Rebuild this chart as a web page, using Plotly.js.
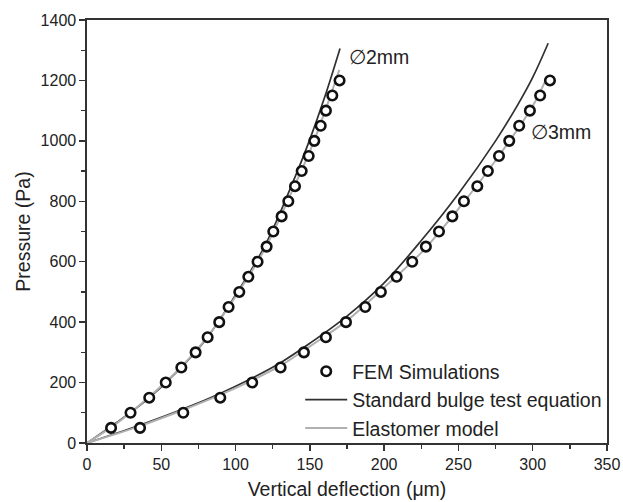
<!DOCTYPE html>
<html>
<head>
<meta charset="utf-8">
<script src="https://cdn.plot.ly/plotly-3.0.1.min.js"></script>
<style>html,body{margin:0;padding:0;background:#fff;}</style>
</head>
<body>
<div id="chart" style="width:623px;height:502px;"></div>
<script>
// FEM simulation points
const femPressure = [50,100,150,200,250,300,350,400,450,500,550,600,650,700,750,800,850,900,950,1000,1050,1100,1150,1200];
const fem2mmDefl = [16.2,29.3,41.9,53,63.5,73.1,81.2,89,95.3,102.5,108.6,114.8,120.9,125.4,131,135.5,140,144.5,149.2,153,157.3,160.8,165.1,170.0];
const fem3mmDefl = [35.7,64.8,89.7,111.2,130.3,146,160.8,174.3,187.3,197.8,208.4,218.9,228.1,236.9,245.9,253.7,262.7,269.8,277.3,284.2,290.9,298.1,305,311.6];

// Standard bulge test equation curves
const std2mmDefl = [0,20,40,60,80,100,120,140,150,160,170.3];
const std2mmP    = [0,68,142,233,343,490,655,880,1005,1145,1306];
const std3mmDefl = [0,35,65,90,110,130,150,175,200,225,250,275,290,300,310.4];
const std3mmP    = [0,58,113,165,212,265,330,420,530,670,825,1000,1120,1210,1323];

// Elastomer model curves
const ela2mmDefl = [0,20,40,60,80,100,120,140,150,160,169.8];
const ela2mmP    = [0,65,145,235,345,485,645,855,965,1095,1235];
const ela3mmDefl = [0,35,65,90,110,130,150,175,200,225,250,275,300,309.5];
const ela3mmP    = [0,55,110,160,205,255,320,405,515,630,775,935,1115,1210];

const xTicks = [0,50,100,150,200,250,300,350];
const yTicks = [0,200,400,600,800,1000,1200,1400];

const blackLine = {color:'#303030', width:1.7};
const grayLine = {color:'#b0b0b0', width:2};
const marker = {symbol:'circle', size:9.5, color:'white', line:{color:'#111111', width:2.6}};

const traces = [
  {x:std2mmDefl, y:std2mmP, mode:'lines', line:Object.assign({shape:'spline'}, blackLine), name:'Standard bulge test equation', legendrank:2, showlegend:true},
  {x:std3mmDefl, y:std3mmP, mode:'lines', line:Object.assign({shape:'spline'}, blackLine), name:'Standard bulge test equation', showlegend:false},
  {x:ela2mmDefl, y:ela2mmP, mode:'lines', line:Object.assign({shape:'spline'}, grayLine), name:'Elastomer model', legendrank:3, showlegend:true},
  {x:ela3mmDefl, y:ela3mmP, mode:'lines', line:Object.assign({shape:'spline'}, grayLine), name:'Elastomer model', showlegend:false},
  {x:fem2mmDefl, y:femPressure, mode:'markers', marker:marker, name:'FEM Simulations', legendrank:1, showlegend:true},
  {x:fem3mmDefl, y:femPressure, mode:'markers', marker:marker, name:'FEM Simulations', showlegend:false}
];

const fam = 'Liberation Sans, Arial, sans-serif';
const axisFont = {family:fam, size:16, color:'#222'};
const titleFont = {family:fam, size:19.5, color:'#222'};
const layout = {
  width:623, height:502,
  margin:{l:87, r:16, t:20, b:59},
  paper_bgcolor:'white', plot_bgcolor:'white',
  font:{family:fam, color:'#222'},
  showlegend:true,
  legend:{x:0.41, y:0.215, xanchor:'left', yanchor:'top', bgcolor:'rgba(0,0,0,0)',
          font:{family:fam, size:19.5, color:'#222'}, itemwidth:42, tracegroupgap:0},
  xaxis:{range:[0,350], tickvals:xTicks, ticks:'outside', ticklen:6, tickwidth:1.5, tickcolor:'#333',
         minor:{dtick:25, ticks:'outside', ticklen:4, tickwidth:1.3, tickcolor:'#333'},
         showline:true, linecolor:'#333', linewidth:1.6, mirror:true, showgrid:false, zeroline:false,
         tickfont:axisFont, title:{text:'Vertical deflection (\u03bcm)', font:titleFont, standoff:10}},
  yaxis:{range:[0,1400], tickvals:yTicks, ticks:'outside', ticklen:6, tickwidth:1.5, tickcolor:'#333',
         minor:{dtick:100, ticks:'outside', ticklen:4, tickwidth:1.3, tickcolor:'#333'},
         showline:true, linecolor:'#333', linewidth:1.6, mirror:true, showgrid:false, zeroline:false,
         tickfont:axisFont, title:{text:'Pressure (Pa)', font:titleFont, standoff:5}},
  annotations:[
    {x:175, y:1278, xref:'x', yref:'y', text:'\u22052mm', showarrow:false, xanchor:'left', yanchor:'middle', font:{family:fam, size:19.5, color:'#222'}},
    {x:297.5, y:1029, xref:'x', yref:'y', text:'\u22053mm', showarrow:false, xanchor:'left', yanchor:'middle', font:{family:fam, size:19.5, color:'#222'}}
  ]
};

Plotly.newPlot('chart', traces, layout, {displayModeBar:false, staticPlot:true});
</script>
</body>
</html>
